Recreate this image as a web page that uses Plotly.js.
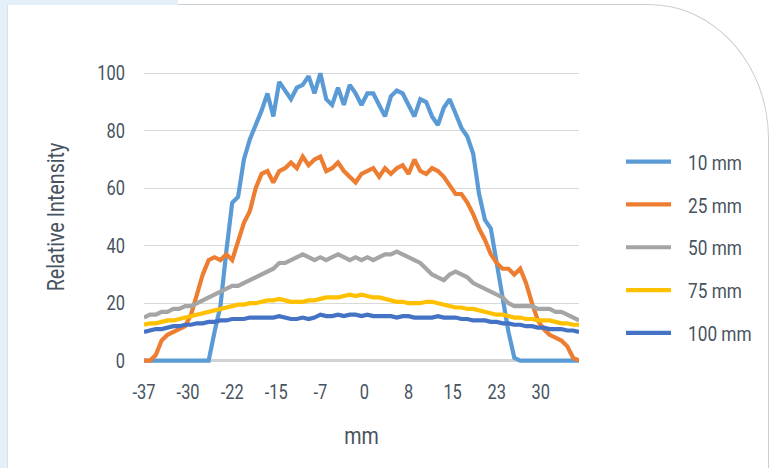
<!DOCTYPE html>
<html><head><meta charset="utf-8">
<script src="https://cdn.plot.ly/plotly-3.0.1.min.js"></script>
<style>
html,body{margin:0;padding:0;background:#fff;width:774px;height:468px;overflow:hidden;}
#card{position:absolute;left:7px;top:4px;width:762px;height:470px;background:#fff;border-top:1px solid #c9ced3;border-right:1px solid #c9ced3;border-left:1px solid #d6e0ea;border-top-right-radius:120px 135px;box-sizing:border-box;}
#strip{position:absolute;left:0;top:0;width:7px;height:468px;background:#e4eff8;}
#band{position:absolute;left:0;top:0;width:178px;height:5px;background:#e4eff8;}
#chart{position:absolute;left:0;top:0;width:774px;height:468px;}
</style></head><body>
<div id="card"></div><div id="strip"></div><div id="band"></div><div id="chart"></div>
<script>
// x positions (mm)
const xMm = [-37,-36,-35,-34,-33,-32,-31,-30,-29,-28,-27,-26,-25,-24,-23,-22,-21,-20,-19,-18,-17,-16,-15,-14,-13,-12,-11,-10,-9,-8,-7,-6,-5,-4,-3,-2,-1,0,1,2,3,4,5,6,7,8,9,10,11,12,13,14,15,16,17,18,19,20,21,22,23,24,25,26,27,28,29,30,31,32,33,34,35,36,37];
const seriesNames = ['10 mm','25 mm','50 mm','75 mm','100 mm'];
const s10 = [0,0,0,0,0,0,0,0,0,0,0,0,10,19,38,55,57,70,77,82,87,93,85,97,94,91,95,96,99,93,100,91,89,95,89,96,93,89,93,93,89,85,92,94,93,89,85,91,90,85,82,88,91,86,81,78,72,58,49,46,34,21,10,1,0,0,0,0,0,0,0,0,0,0,0];
const s25 = [0,0,2,7,9,10,11,12,16,23,30,35,36,35,37,35,41,48,52,60,65,66,62,66,67,69,67,71,68,70,71,66,67,69,66,64,62,65,66,67,64,67,65,67,68,65,70,66,65,67,66,64,61,58,58,55,51,46,42,37,34,32,32,30,32,27,20,14,11,9,8,7,5,1,0];
const s50 = [15,16,16,17,17,18,18,19,19,20,21,22,23,24,25,26,26,27,28,29,30,31,32,34,34,35,36,37,36,35,36,35,36,37,36,35,36,35,36,35,36,37,37,38,37,36,35,34,32,30,29,28,30,31,30,29,27,26,25,24,23,22,20,19,19,19,19,18,18,18,17,17,16,15,14];
const s75 = [12.5,13,13,13.5,14,14,14.5,15,15.5,16,16.5,17,17.5,18,18.5,19,19.5,19.5,20,20,20.5,21,21,21.5,21,20.5,20.5,20.5,21,21,21.5,22,22,22,22.5,23,22.5,23,22.5,22,22,21.5,21,20.5,20.5,20,20,20,20.5,20.5,20,19.5,19,18.5,18.5,18,18,17.5,17,16.5,16,16,15.5,15,15,14.5,14.5,14,14,14,13.5,13,13,12.5,12.5];
const s100 = [10,10.5,11,11,11.5,12,12,12.5,12.5,13,13,13.5,13.5,14,14,14.5,14.5,14.5,15,15,15,15,15,15.5,15,14.5,14.5,15,14.5,15,16,15.5,15.5,16,15.5,16,16,15.5,16,15.5,15.5,15.5,15.5,15,15.5,15.5,15,15,15,15,15.5,15,15,15,14.5,14.5,14,14,14,13.5,13.5,13,13,12.5,12.5,12,12,11.5,11.5,11,11,11,10.5,10.5,10];
const xTickVals = [-37,-29.5,-22,-14.5,-7,0.5,8,15.5,23,30.5];
const xTickText = ['-37','-30','-22','-15','-7','0','8','15','23','30'];
const yTickVals = [0,20,40,60,80,100];
const colors = ['#5B9BD5','#ED7D31','#A5A5A5','#FFC000','#4472C4'];

const FONT = 'Roboto, "Noto Sans", sans-serif';
const TXT = '#47535e';
const allSeries = [s10,s25,s50,s75,s100];
const traces = allSeries.map((ys,i)=>({
  x:xMm, y:ys, type:'scatter', mode:'lines', name:seriesNames[i],
  legendgroup:'g'+i,
  line:{color:colors[i],width:4.2}
}));
const layout = {
  width:774,height:468,
  paper_bgcolor:'rgba(0,0,0,0)',plot_bgcolor:'rgba(0,0,0,0)',
  margin:{l:144,r:195,t:69,b:103,autoexpand:false},
  font:{family:FONT,color:TXT,size:20},
  showlegend:true,
  legend:{x:1.0966,xanchor:'left',y:0.755,yanchor:'top',itemwidth:45,font:{size:21,family:FONT,color:TXT},tracegroupgap:12.5,bgcolor:'rgba(0,0,0,0)'},
  xaxis:{range:[-37,37],tickmode:'array',tickvals:xTickVals,ticktext:xTickText,showgrid:false,zeroline:false,showline:false,ticks:'',ticklabelstandoff:13,
    tickfont:{size:20,family:FONT,color:TXT},
    title:{text:'mm',standoff:24,font:{size:24,family:FONT,color:TXT}}},
  yaxis:{range:[-1.5,101.5],tickmode:'array',tickvals:yTickVals,showgrid:true,gridcolor:'#d9d9d9',gridwidth:1,zeroline:true,zerolinecolor:'#d2d2d2',zerolinewidth:3,showline:false,ticks:'',ticklabelstandoff:18,
    tickfont:{size:20,family:FONT,color:TXT},
    title:{text:'Relative Intensity',standoff:19,font:{size:24,family:FONT,color:TXT}}}
};
function condense(){
  document.querySelectorAll('#chart svg text').forEach(function(t){
    if(!t.textContent) return;
    var len = t.getComputedTextLength();
    if(len>0){
      t.setAttribute('textLength',(len*0.82).toFixed(2));
      t.setAttribute('lengthAdjust','spacingAndGlyphs');
    }
  });
  // nudge legend labels right, as in the original legend
  document.querySelectorAll('#chart svg text.legendtext').forEach(function(t){
    var x = parseFloat(t.getAttribute('x')||'0');
    t.setAttribute('x', x + 12);
  });
}
Plotly.newPlot('chart',traces,layout,{staticPlot:true,displayModeBar:false}).then(condense);
</script>
</body></html>
